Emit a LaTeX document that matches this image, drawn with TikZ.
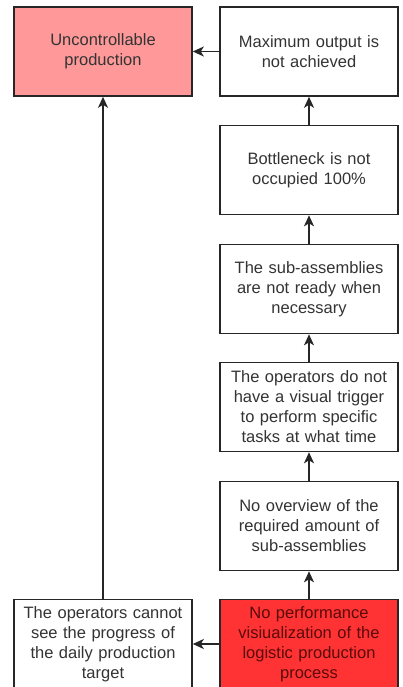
\documentclass[tikz,border=0pt]{standalone}
\usepackage{fontspec}
\setmainfont{Liberation Sans}
\usetikzlibrary{positioning,arrows.meta}
\definecolor{lightred}{RGB}{255,153,153}
\definecolor{strongred}{RGB}{255,51,51}
\definecolor{txtgray}{RGB}{51,51,51}
\definecolor{txtred}{RGB}{90,10,10}
\tikzset{box/.style={draw=black!85,line width=1.6pt,minimum width=178pt,minimum height=89pt,text width=176pt,align=center,inner sep=1pt,text=txtgray,font=\fontsize{16.5}{20}\selectfont},
  link/.style={-{Stealth[length=11pt,width=10pt,inset=3pt]},line width=1.6pt,draw=black!85}}

\begin{document}
\begin{tikzpicture}[x=1pt,y=-1pt]
      \useasboundingbox (0,0) rectangle (403,687);
      \node[box,fill=lightred] (unctrl) at (103,51.5) {Uncontrollable\\production};
      \node[box] (opcannot) at (103,644) {The operators cannot\\see the progress of\\the daily production\\target};
      \foreach \n/\y/\t in {maxout/51.5/{Maximum output is\\not achieved},bottle/170/{Bottleneck is not\\occupied 100\%},subready/289/{The sub-assemblies\\are not ready when\\necessary},trigger/407/{The operators do not\\have a visual trigger\\to perform specific\\tasks at what time},overview/526/{No overview of the\\required amount of\\sub-assemblies}}
      {\node[box] (\n) at (309,\y) {\t};}
      \node[box,fill=strongred,text=txtred] (noperf) at (309,644) {No performance\\visiualization of the\\logistic production\\process};
      % causes point up the chain
      \foreach \a/\b in {noperf/overview,overview/trigger,trigger/subready,subready/bottle,bottle/maxout}
      {\draw[link] (\a.north) -- (\b.south);}
      \draw[link] (maxout.west) -- (unctrl.east);\draw[link] (noperf.west) -- (opcannot.east);
      \draw[link] (opcannot.north) -- (unctrl.south);
    \end{tikzpicture}
\end{document}
